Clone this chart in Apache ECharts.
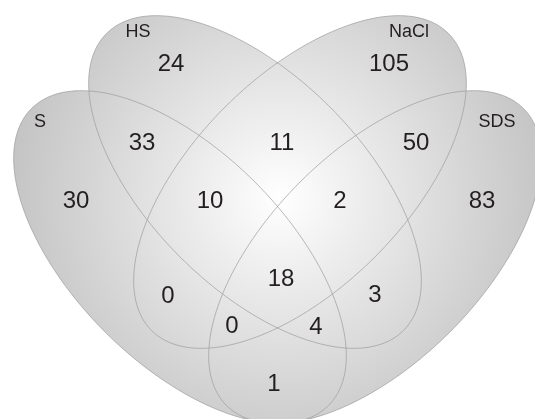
<!DOCTYPE html>
<html>
<head>
<meta charset="utf-8">
<script src="https://cdn.jsdelivr.net/npm/echarts@6/dist/echarts.min.js"></script>
<style>
  html, body { margin: 0; padding: 0; background: #fff; }
  #chart { width: 535px; height: 419px; }
</style>
</head>
<body>
<div id="chart"></div>
<script>
  // sets and region counts
  var setNames = ['S', 'HS', 'NaCl', 'SDS'];
  var regionSets = ['S', 'HS', 'NaCl', 'SDS', 'S,HS', 'HS,NaCl', 'NaCl,SDS', 'S,NaCl', 'HS,SDS', 'S,SDS',
    'S,HS,NaCl', 'HS,NaCl,SDS', 'S,NaCl,SDS', 'S,HS,SDS', 'S,HS,NaCl,SDS'];
  var regionCounts = [30, 24, 105, 83, 33, 11, 50, 0, 3, 1, 10, 2, 0, 4, 18];

  // layout (frame units), kept apart from the data
  var ellipseCenter = { S: [180, 257], HS: [255, 182], NaCl: [300, 182], SDS: [375, 257] };
  var ellipseAngle = { S: 45, HS: 45, NaCl: -45, SDS: -45 };
  var semiMajor = 210, semiMinor = 106;
  var setLabelPos = { S: [40, 122], HS: [138, 32], NaCl: [409, 32], SDS: [497, 122] };
  var regionLabelPos = {
    'S': [76, 201], 'HS': [171, 64], 'NaCl': [389, 64], 'SDS': [482, 201],
    'S,HS': [142, 143], 'HS,NaCl': [282, 143], 'NaCl,SDS': [416, 143],
    'S,NaCl': [168, 296], 'HS,SDS': [375, 295], 'S,SDS': [274, 384],
    'S,HS,NaCl': [210, 201], 'HS,NaCl,SDS': [340, 201], 'S,NaCl,SDS': [232, 326],
    'S,HS,SDS': [316, 327], 'S,HS,NaCl,SDS': [281, 279]
  };

  var chart = echarts.init(document.getElementById('chart'));

  var shade = new echarts.graphic.RadialGradient(280, 198, 300, [
    { offset: 0, color: '#ffffff' },
    { offset: 0.3, color: '#ebebeb' },
    { offset: 0.65, color: '#d4d4d4' },
    { offset: 1, color: '#bebebe' }
  ], true);

  function ellipsePoints(api, name) {
    var c = ellipseCenter[name];
    var th = ellipseAngle[name] * Math.PI / 180;
    var pts = [];
    for (var i = 0; i < 180; i++) {
      var t = i / 180 * Math.PI * 2;
      var u = semiMajor * Math.cos(t), v = semiMinor * Math.sin(t);
      pts.push(api.coord([c[0] + u * Math.cos(th) - v * Math.sin(th),
                          c[1] + u * Math.sin(th) + v * Math.cos(th)]));
    }
    return pts;
  }

  function textItem(api, pos, text, size) {
    var p = api.coord(pos);
    return {
      type: 'text', x: p[0], y: p[1],
      style: {
        text: text, fill: '#231f20', fontSize: size,
        fontFamily: 'Liberation Sans, Arial, sans-serif',
        align: 'center', verticalAlign: 'middle'
      }
    };
  }

  var option = {
    animation: false,
    grid: { left: 0, right: 0, top: 0, bottom: 0 },
    xAxis: { type: 'value', min: 0, max: 535, show: false },
    yAxis: { type: 'value', min: 0, max: 419, inverse: true, show: false },
    series: [
      {
        type: 'custom', silent: true,
        data: setNames,
        renderItem: function (params, api) {
          return { type: 'polygon', shape: { points: ellipsePoints(api, setNames[params.dataIndex]) },
                   style: { fill: shade, stroke: 'none' } };
        }
      },
      {
        type: 'custom', silent: true,
        data: setNames,
        renderItem: function (params, api) {
          return { type: 'polygon', shape: { points: ellipsePoints(api, setNames[params.dataIndex]) },
                   style: { fill: 'none', stroke: '#9c9c9c', lineWidth: 0.7 } };
        }
      },
      {
        type: 'custom', silent: true,
        data: setNames,
        renderItem: function (params, api) {
          var n = setNames[params.dataIndex];
          return textItem(api, setLabelPos[n], n, 18);
        }
      },
      {
        type: 'custom', silent: true,
        data: regionCounts,
        renderItem: function (params, api) {
          var key = regionSets[params.dataIndex];
          return textItem(api, regionLabelPos[key], String(regionCounts[params.dataIndex]), 24);
        }
      }
    ]
  };
  chart.setOption(option);
</script>
</body>
</html>
